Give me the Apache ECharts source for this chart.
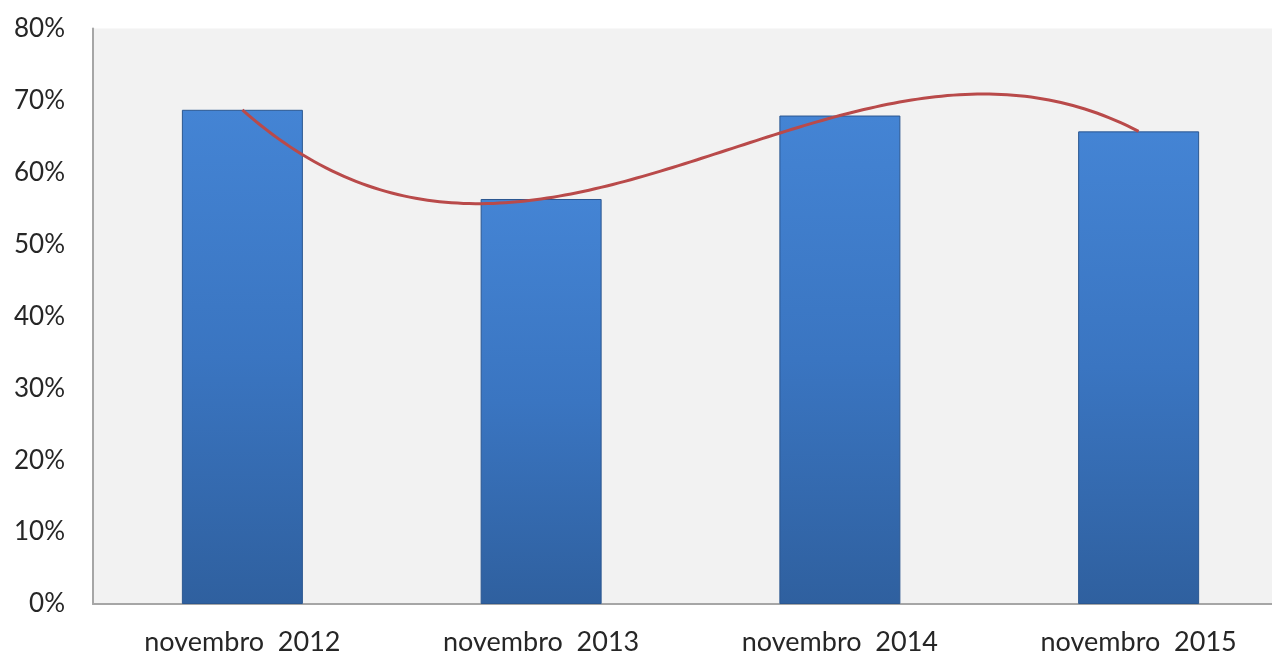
<!DOCTYPE html>
<html>
<head>
<meta charset="utf-8">
<script src="https://cdn.jsdelivr.net/npm/echarts@6/dist/echarts.min.js"></script>
<style>
html,body{margin:0;padding:0;background:#fff;}
#chart{width:1272px;height:658px;}
</style>
</head>
<body>
<div id="chart"></div>
<script>
var categories = ['novembro  2012', 'novembro  2013', 'novembro  2014', 'novembro  2015'];
var barValues = [68.7, 56.3, 67.9, 65.7];
// Polynomial (order 3) trendline of the bar values, as drawn by the spreadsheet
var trendValues = [68.7, 56.3, 67.9, 65.7];
var yTicks = { min: 0, max: 80, interval: 10 };

// order-3 polynomial through the 4 points (exact fit = Lagrange form)
function trendAt(t) {
  var s = 0, n = trendValues.length;
  for (var i = 0; i < n; i++) {
    var L = 1;
    for (var j = 0; j < n; j++) { if (j !== i) L *= (t - j) / (i - j); }
    s += trendValues[i] * L;
  }
  return s;
}

var chart = echarts.init(document.getElementById('chart'));
chart.setOption({
  animation: false,
  grid: {
    left: 93, top: 28.5, bottom: 54, width: 1195,
    outerBoundsMode: 'none',
    containLabel: false,
    show: true, backgroundColor: '#f2f2f2', borderWidth: 0
  },
  xAxis: [{
    type: 'category',
    data: categories,
    boundaryGap: true,
    axisLine: { show: true, onZero: false, lineStyle: { color: '#a6a6a6', width: 2 } },
    axisTick: { show: false },
    axisLabel: { color: '#262626', fontSize: 27, fontFamily: 'Lato', margin: 25 },
    splitLine: { show: false }
  }, {
    type: 'value', min: -0.5, max: 3.5, show: false,
    axisLine: { show: false, onZero: false },
    splitLine: { show: false }
  }],
  yAxis: {
    type: 'value',
    min: yTicks.min, max: yTicks.max, interval: yTicks.interval,
    axisLine: { show: true, onZero: false, lineStyle: { color: '#a6a6a6', width: 2 } },
    axisTick: { show: false },
    splitLine: { show: false },
    axisLabel: { color: '#262626', fontSize: 26, fontFamily: 'Lato', margin: 28, formatter: '{value}%' }
  },
  series: [
    {
      type: 'bar',
      data: barValues,
      barWidth: 121,
      itemStyle: {
        color: new echarts.graphic.LinearGradient(0, 0, 0, 1, [
          { offset: 0, color: '#4484d4' },
          { offset: 0.5, color: '#3a75c1' },
          { offset: 1, color: '#2f609f' }
        ]),
        borderColor: '#2b5790',
        borderWidth: 1
      },
      z: 2
    },
    {
      type: 'custom',
      xAxisIndex: 1,
      data: trendValues.map(function (v, i) { return [i, v]; }),
      z: 3,
      renderItem: function (params, api) {
        if (params.dataIndex !== 0) return null;
        var pts = [];
        var last = trendValues.length - 1;
        for (var t = 0; t <= last + 1e-9; t += 0.02) {
          pts.push(api.coord([t, trendAt(t)]));
        }
        return {
          type: 'polyline',
          shape: { points: pts },
          style: { stroke: '#b94a4a', lineWidth: 3, fill: null }
        };
      }
    }
  ]
});
</script>
</body>
</html>
